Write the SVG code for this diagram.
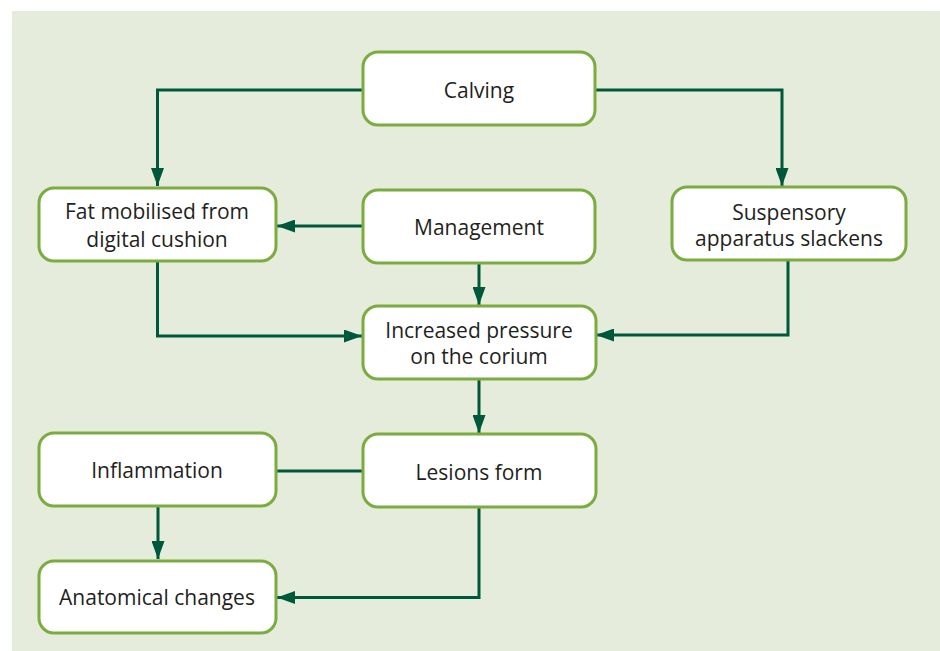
<svg xmlns="http://www.w3.org/2000/svg" width="940" height="651" viewBox="0 0 940 651">
<defs>
<style>
.box{fill:#ffffff;stroke:#7aac41;stroke-width:3}
.lbl{font-family:"Open Sans","Noto Sans","Liberation Sans",sans-serif;font-size:21px;fill:#231f20;text-anchor:middle}
.con{fill:none;stroke:#00583a;stroke-width:3}
</style>
<marker id="ah" viewBox="0 0 18 13" refX="18" refY="6.5" markerWidth="18" markerHeight="13" markerUnits="userSpaceOnUse" orient="auto">
<path d="M0,0 L18,6.5 L0,13 Z" fill="#00583a"/>
</marker>
</defs>
<rect x="12" y="11" width="928" height="640" fill="#e5ecdb"/>
<g id="connectors">
<polyline class="con" points="363,90 157.5,90 157.5,186" marker-end="url(#ah)"/>
<polyline class="con" points="595,90 782,90 782,186" marker-end="url(#ah)"/>
<line class="con" x1="363" y1="226" x2="277" y2="226" marker-end="url(#ah)"/>
<line class="con" x1="479" y1="263" x2="479" y2="305" marker-end="url(#ah)"/>
<polyline class="con" points="157.5,261 157.5,336 362,336" marker-end="url(#ah)"/>
<polyline class="con" points="788,260 788,335 596,335" marker-end="url(#ah)"/>
<line class="con" x1="479" y1="379" x2="479" y2="433" marker-end="url(#ah)"/>
<line class="con" x1="276" y1="471" x2="363" y2="471"/>
<line class="con" x1="158" y1="506" x2="158" y2="559" marker-end="url(#ah)"/>
<polyline class="con" points="479,507 479,597.5 277,597.5" marker-end="url(#ah)"/>
</g>
<g id="calving">
<rect class="box" x="363" y="52" width="232" height="73" rx="15"/>
<text class="lbl" x="479" y="98">Calving</text>
</g>
<g id="fat">
<rect class="box" x="39" y="188" width="237" height="73" rx="15"/>
<text class="lbl" x="157" y="219">Fat mobilised from</text>
<text class="lbl" x="157" y="247">digital cushion</text>
</g>
<g id="management">
<rect class="box" x="363" y="190" width="232" height="73" rx="15"/>
<text class="lbl" x="479" y="235">Management</text>
</g>
<g id="suspensory">
<rect class="box" x="672" y="187" width="234" height="73" rx="15"/>
<text class="lbl" x="789" y="220">Suspensory</text>
<text class="lbl" x="789" y="246">apparatus slackens</text>
</g>
<g id="pressure">
<rect class="box" x="363" y="306" width="233" height="73" rx="15"/>
<text class="lbl" x="479" y="338">Increased pressure</text>
<text class="lbl" x="479" y="364">on the corium</text>
</g>
<g id="inflammation">
<rect class="box" x="39" y="433" width="237" height="73" rx="15"/>
<text class="lbl" x="157" y="478">Inflammation</text>
</g>
<g id="lesions">
<rect class="box" x="363" y="434" width="233" height="73" rx="15"/>
<text class="lbl" x="479" y="480">Lesions form</text>
</g>
<g id="anatomical">
<rect class="box" x="39" y="561" width="237" height="72" rx="15"/>
<text class="lbl" x="157" y="605">Anatomical changes</text>
</g>
</svg>
